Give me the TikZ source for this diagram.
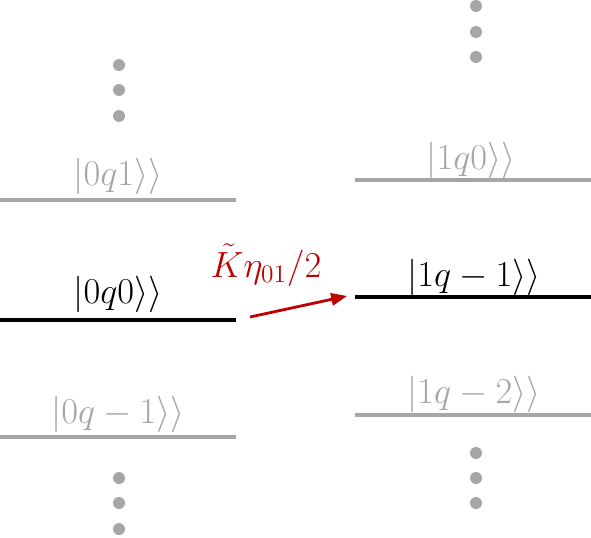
\documentclass[tikz,border=0pt]{standalone}
\usepackage{tikz}
\usetikzlibrary{arrows.meta,positioning}
\definecolor{LevelGray}{HTML}{A6A6A6}
\definecolor{CouplingRed}{HTML}{C00000}

\begin{document}
\begin{tikzpicture}[x=0.02cm,y=-0.02cm,
    level/.style={line width=1.8pt},
    ket/.style={anchor=base,inner sep=0pt,font=\fontsize{22}{26}\selectfont},
    dot/.style={fill=LevelGray}]
      \useasboundingbox (0,0) rectangle (591,537);
      % left ladder
      \coordinate (l1a) at (0,200);   \coordinate (l1b) at (236,200);
      \coordinate (l0a) at (0,320);   \coordinate (l0b) at (236,320);
      \coordinate (lma) at (0,437);   \coordinate (lmb) at (236,437);
      % right ladder
      \coordinate (r0a) at (355,180); \coordinate (r0b) at (591,180);
      \coordinate (rma) at (355,297); \coordinate (rmb) at (591,297);
      \coordinate (rna) at (355,415); \coordinate (rnb) at (591,415);
      \draw[level,LevelGray] (l1a)--(l1b);
      \draw[level,black] (l0a)--(l0b);
      \draw[level,LevelGray] (lma)--(lmb);
      \draw[level,LevelGray] (r0a)--(r0b);
      \draw[level,black] (rma)--(rmb);
      \draw[level,LevelGray] (rna)--(rnb);
      \node[ket,LevelGray] (k0q1) at (118,185) {$|0q1\rangle\rangle$};
      \node[ket] (k0q0) at (118,303) {$|0q0\rangle\rangle$};
      \node[ket,LevelGray] (k0qm) at (118,423) {$|0q-1\rangle\rangle$};
      \node[ket,LevelGray] (k1q0) at (471,169) {$|1q0\rangle\rangle$};
      \node[ket] (k1qm) at (474,286) {$|1q-1\rangle\rangle$};
      \node[ket,LevelGray] (k1qn) at (474,403) {$|1q-2\rangle\rangle$};
      \foreach \y in {65,90,116,478,503,529}
        \fill[dot] (119,\y) circle (6);
      \foreach \y in {6,32,57,453,478,503}
        \fill[dot] (476,\y) circle (6);
      % coupling
      \coordinate (from) at (250,317);
      \coordinate (to) at (347,296);
      \draw[CouplingRed,line width=1.6pt,-{Triangle[length=9pt,width=7pt]}] (from)--(to);
      \node[ket,CouplingRed] (coup) at (266,277) {$\tilde K\eta_{01}/2$};
    \end{tikzpicture}
\end{document}
